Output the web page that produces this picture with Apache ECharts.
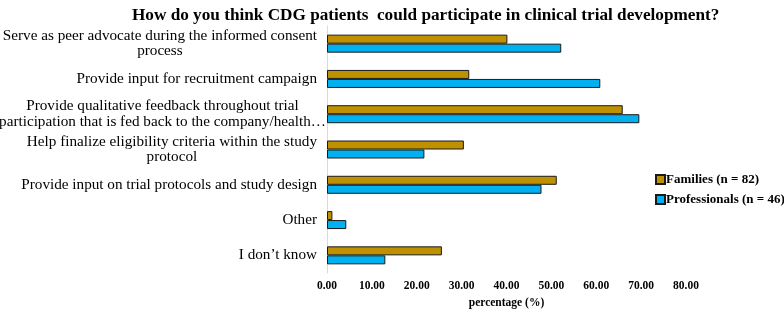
<!DOCTYPE html>
<html>
<head>
<meta charset="utf-8">
<script src="https://cdn.jsdelivr.net/npm/echarts@6/dist/echarts.min.js"></script>
<style>html,body{margin:0;padding:0;background:#fff}#c{width:784px;height:309px}</style>
</head>
<body>
<div id="c"></div>
<script>
const categories = [
  "Serve as peer advocate during the informed consent\nprocess",
  "Provide input for recruitment campaign",
  "Provide qualitative feedback throughout trial\nparticipation that is fed back to the company/health…",
  "Help finalize eligibility criteria within the study\nprotocol",
  "Provide input on trial protocols and study design",
  "Other",
  "I don’t know"
];
const families = [40.2, 31.7, 65.9, 30.5, 51.2, 1.2, 25.6];
const professionals = [52.2, 60.9, 69.6, 21.7, 47.8, 4.3, 13.0];
const xTicks = [0, 10, 20, 30, 40, 50, 60, 70, 80];
const seriesNames = ["Families (n = 82)", "Professionals (n = 46)"];

const FONT = "'Liberation Serif', 'Times New Roman', serif";
const chart = echarts.init(document.getElementById('c'));
chart.setOption({
  animation: false,
  title: {
    text: "How do you think CDG patients  could participate in clinical trial development?",
    left: 127, top: 2,
    textStyle: { fontFamily: FONT, fontSize: 17.2, fontWeight: 'bold', color: '#000' }
  },
  legend: {
    orient: 'vertical', left: 650, top: 168, itemGap: 7,
    itemWidth: 9, itemHeight: 9, icon: 'rect',
    textStyle: { fontFamily: FONT, fontSize: 13, fontWeight: 'bold', color: '#000', padding: [0,0,0,-4] },
    data: seriesNames
  },
  grid: { left: 327, right: 98, top: 26, bottom: 36, containLabel: false, outerBoundsMode: 'none' },
  xAxis: {
    type: 'value', min: xTicks[0], max: xTicks[xTicks.length-1], interval: 10,
    name: 'percentage (%)', nameLocation: 'middle', nameGap: 23,
    nameTextStyle: { fontFamily: FONT, fontSize: 11.5, fontWeight: 'bold', color: '#000' },
    axisLine: { show: false }, axisTick: { show: false }, splitLine: { show: false },
    axisLabel: { fontFamily: FONT, fontSize: 11.5, fontWeight: 'bold', color: '#000', margin: 7,
      formatter: v => v.toFixed(2) }
  },
  yAxis: {
    type: 'category', inverse: true, data: categories,
    axisLine: { show: true, lineStyle: { color: '#d9d9d9', width: 1 } },
    axisTick: { show: false },
    axisLabel: {
      margin: 10, color: '#000', fontFamily: FONT, fontSize: 15.2, lineHeight: 15.5,
      formatter: v => v.split('\n').map(s => '{' + (s.length > 52 ? 'o' : 'c') + '|' + s + '}').join('\n'),
      rich: {
        c: { align: 'center', fontFamily: FONT, fontSize: 15.2, lineHeight: 15.5, color: '#000' },
        o: { align: 'center', width: 309, fontFamily: FONT, fontSize: 15.2, lineHeight: 15.5, color: '#000' }
      }
    }
  },
  series: [
    { name: seriesNames[0], type: 'bar', data: families, barWidth: 9, barGap: '0%',
      itemStyle: { color: '#BF9000', borderColor: '#1a1a1a', borderWidth: 1 } },
    { name: seriesNames[1], type: 'bar', data: professionals, barWidth: 9, barGap: '0%',
      itemStyle: { color: '#00B0F0', borderColor: '#1a1a1a', borderWidth: 1 } }
  ]
});
</script>
</body>
</html>
